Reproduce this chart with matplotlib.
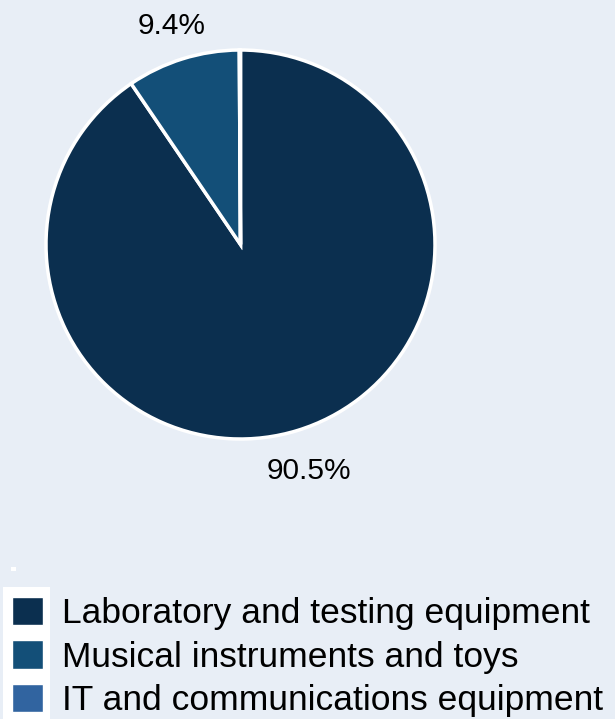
import matplotlib.pyplot as plt
from matplotlib.patches import Rectangle

plt.rcParams['font.family'] = ['Liberation Sans', 'DejaVu Sans']

labels = ['Laboratory and testing equipment', 'Musical instruments and toys',
          'IT and communications equipment']
shares = [90.5, 9.4, 0.1]
colors = ['#0b2f4f', '#134f78', '#3164a0']
bg = '#e8eef6'

fig = plt.figure(figsize=(6.15, 7.19), dpi=100, facecolor=bg)
ax = fig.add_axes([46 / 615, 1 - 439 / 719, 389 / 615, 389 / 719])
ax.set_facecolor(bg)


def pct(v):
    return '%.1f%%' % v if v >= 1 else ''


wedges, _, autotexts = ax.pie(shares, colors=colors, startangle=90, counterclock=False,
                              autopct=pct, pctdistance=1.2,
                              wedgeprops=dict(edgecolor='white', linewidth=2.5),
                              textprops=dict(fontsize=21.5, color='black'))
autotexts[0].set_y(autotexts[0].get_position()[1] - 0.02)
autotexts[1].set_y(autotexts[1].get_position()[1] - 0.02)
ax.set_xlim(-1, 1)
ax.set_ylim(-1, 1)
ax.set_aspect('equal')
ax.axis('off')

# white strip behind the legend keys
fig.patches.append(Rectangle((3 / 615, 0), 47 / 615, 132 / 719, transform=fig.transFigure,
                             facecolor='white', edgecolor='none', zorder=0))
fig.patches.append(Rectangle((11 / 615, 1 - 571 / 719), 5 / 615, 4 / 719, transform=fig.transFigure,
                             facecolor='white', edgecolor='none', zorder=0))

leg = fig.legend(wedges, labels, loc='upper left', bbox_to_anchor=(12 / 615, 1 - 597 / 719),
                 frameon=False, fontsize=25.5, handlelength=0.876, handleheight=0.85,
                 handletextpad=0.54, labelspacing=0.28, borderaxespad=0, borderpad=0)
for h in leg.legend_handles:
    h.set_edgecolor('white')
    h.set_linewidth(1)

fig.savefig('out.png', dpi=100, facecolor=bg)
